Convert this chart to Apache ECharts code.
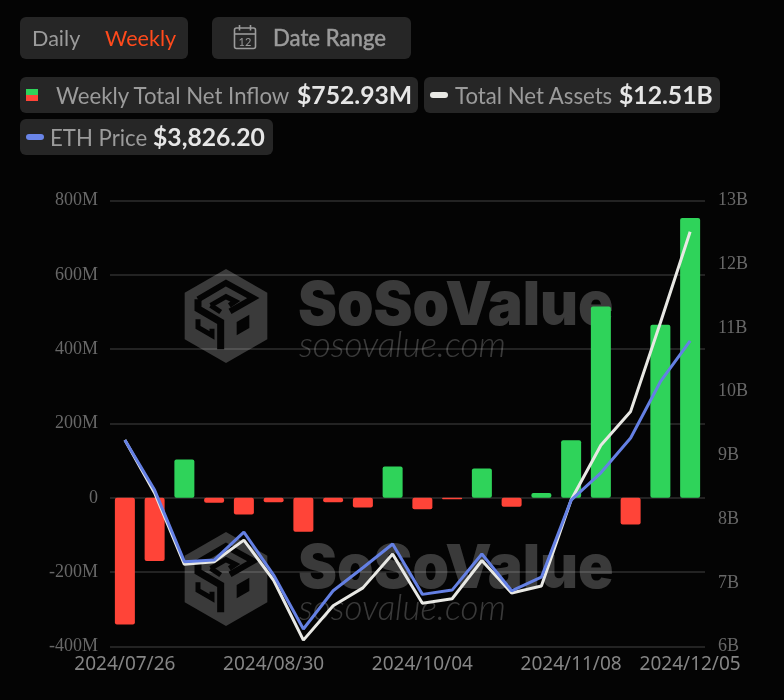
<!DOCTYPE html>
<html>
<head>
<meta charset="utf-8">
<script src="https://cdn.jsdelivr.net/npm/echarts@6/dist/echarts.min.js"></script>
<style>
html,body{margin:0;padding:0;background:#040404;width:784px;height:700px;overflow:hidden;font-family:Lato,sans-serif}
#chart{position:absolute;left:0;top:0;width:784px;height:700px}
.pill{position:absolute;background:#262626;border-radius:6px;z-index:2}
.t{position:absolute;white-space:nowrap;color:#9b9b9b;font-size:22.2px;line-height:26px;z-index:3}
.v{position:absolute;white-space:nowrap;color:#e6e6e6;font-size:24.7px;font-weight:700;line-height:28px;z-index:3}
.sw{position:absolute;z-index:3}
</style>
</head>
<body>
<div id="chart"></div>
<div class="pill" style="left:20px;top:17px;width:168px;height:42px"></div>
<div class="t" style="left:32px;top:25px;font-size:21.6px">Daily</div>
<div class="t" style="left:105px;top:25px;font-size:21.6px;color:#ff4a1c">Weekly</div>
<div class="pill" style="left:212px;top:17px;width:199px;height:42px"></div>
<svg class="sw" style="left:233px;top:24px" width="24" height="26" viewBox="0 0 24 26" fill="none" stroke="#9b9b9b" stroke-width="1.6">
  <rect x="1.5" y="4" width="21" height="20.5" rx="2"/><line x1="1.5" y1="10" x2="22.5" y2="10"/>
  <line x1="6.5" y1="1" x2="6.5" y2="6.5"/><line x1="17.5" y1="1" x2="17.5" y2="6.5"/>
  <text x="12" y="21.5" text-anchor="middle" fill="#9b9b9b" stroke="none" font-size="11" font-family="Lato">12</text>
</svg>
<div class="t" style="left:273px;top:25px;-webkit-text-stroke:0.5px #9b9b9b">Date Range</div>

<div class="pill" style="left:20px;top:77px;width:398px;height:36px"></div>
<div class="sw" style="left:26px;top:89px;width:12px;height:6px;background:#2fd35a"></div>
<div class="sw" style="left:26px;top:95px;width:12px;height:6px;background:#ff4438"></div>
<div class="t" style="left:56px;top:83px">Weekly Total Net Inflow</div>
<div class="v" style="left:297px;top:81px">$752.93M</div>

<div class="pill" style="left:424px;top:77px;width:296px;height:36px"></div>
<div class="sw" style="left:430px;top:92px;width:18px;height:6px;border-radius:3px;background:#e8e8e4"></div>
<div class="t" style="left:455px;top:83px">Total Net Assets</div>
<div class="v" style="left:619px;top:81px">$12.51B</div>

<div class="pill" style="left:20px;top:119px;width:253px;height:36px"></div>
<div class="sw" style="left:26px;top:134px;width:18px;height:6px;border-radius:3px;background:#6a85e8"></div>
<div class="t" style="left:50px;top:125px">ETH Price</div>
<div class="v" style="left:153px;top:123px">$3,826.20</div>

<script>
const categories = ["2024/07/26","2024/08/02","2024/08/09","2024/08/16","2024/08/23","2024/08/30","2024/09/06","2024/09/13","2024/09/20","2024/09/27","2024/10/04","2024/10/11","2024/10/18","2024/10/25","2024/11/01","2024/11/08","2024/11/15","2024/11/22","2024/11/29","2024/12/05"];
const netInflow = [-341,-170,103,-13,-45,-12,-91,-12,-26,84,-31,-4,79,-24,13,155,515,-72,466,752.93];
const netAssets = [9.24,8.41,7.29,7.33,7.67,7.04,6.10,6.64,6.92,7.45,6.68,6.75,7.35,6.84,6.95,8.30,9.16,9.69,11.08,12.51];
const ethPrice = [3271,2991,2590,2599,2756,2515,2213,2427,2556,2689,2407,2431,2633,2427,2503,2935,3088,3283,3598,3826.2];
const shownLabels = ["2024/07/26","2024/08/30","2024/10/04","2024/11/08","2024/12/05"];

const GREEN = '#2fd35a', RED = '#ff4438', WHITE = '#e8e8e4', BLUE = '#6480e4';
const WM = 'rgba(255,255,255,0.215)', BG = '#040404';

function watermark(dy) {
  const lp = pts => pts.map(p => [p[0]/3, p[1]/3]);
  const cut = w => ({ stroke: BG, fill: 'none', lineWidth: w, lineJoin: 'miter' });
  return [
    { type:'group', x:180, y:262+dy, z:1, silent:true, children:[
      { type:'polygon', z:1, shape:{points:lp([[138,21],[262,92],[262,232],[138,303],[14,232],[14,92]])}, style:{fill:WM} },
      { type:'polyline', z:1, shape:{points:lp([[54,112],[138,63],[220,108],[150,148]])}, style:cut(6) },
      { type:'polyline', z:1, shape:{points:lp([[92,130],[138,104],[166,118],[148,130]])}, style:cut(5) },
      { type:'polyline', z:1, shape:{points:lp([[92,130],[122,150]])}, style:cut(5) },
      { type:'polyline', z:1, shape:{points:lp([[54,112],[54,140],[122,180],[122,262]])}, style:cut(7) },
      { type:'polyline', z:1, shape:{points:lp([[54,172],[54,196],[96,220],[96,200]])}, style:cut(5) },
      { type:'polygon', z:1, shape:{points:lp([[170,180],[208,158],[208,198],[170,220]])}, style:{fill:BG} }
    ]},
    { type:'text', x:298, y:337+dy, z:1, silent:true, scaleX:0.96, style:{ text:'SoSoValue', fill:WM, font:'900 61px Inter', verticalAlign:'bottom' } },
    { type:'text', x:299, y:328+dy, z:1, silent:true, style:{ text:'sosovalue.com', fill:WM, font:'italic 300 35px Lato', verticalAlign:'top' } }
  ];
}

const chart = echarts.init(document.getElementById('chart'), null, {renderer:'canvas'});
chart.setOption({
  animation:false,
  backgroundColor:BG,
  grid:{left:110,right:79,top:200.5,bottom:53.5},
  xAxis:{type:'category',data:categories,
    axisLine:{show:false},axisTick:{show:false},
    axisLabel:{color:'#858585',fontSize:19,fontFamily:'"Noto Sans"',margin:9,hideOverlap:false,
      interval:(i,v)=>shownLabels.includes(v)}},
  yAxis:[
    {type:'value',min:-400,max:800,interval:200,
      axisLine:{show:false},axisTick:{show:false},
      splitLine:{lineStyle:{color:'#2e2e2e',width:1.5}},
      axisLabel:{color:'#686868',fontSize:18,fontFamily:'"Liberation Serif"',margin:12,formatter:v=>v===0?'0':v+'M'}},
    {type:'value',min:6,max:13,interval:1,position:'right',
      axisLine:{show:false},axisTick:{show:false},splitLine:{show:false},
      axisLabel:{color:'#686868',fontSize:18,fontFamily:'"Liberation Serif"',margin:13,formatter:v=>v+'B'}},
    {type:'value',min:2115,max:4613,show:false,splitLine:{show:false}}
  ],
  series:[
    {name:'Weekly Total Net Inflow',type:'bar',data:netInflow,barWidth:20,z:2,
      itemStyle:{borderRadius:2,color:p=>p.value>=0?GREEN:RED}},
    {name:'Total Net Assets',type:'line',yAxisIndex:1,data:netAssets,showSymbol:false,symbol:'none',z:3,
      lineStyle:{color:WHITE,width:3}},
    {name:'ETH Price',type:'line',yAxisIndex:2,data:ethPrice,showSymbol:false,symbol:'none',z:4,
      lineStyle:{color:BLUE,width:3}}
  ],
  graphic:{elements:[...watermark(0),...watermark(263)]}
});
</script>
</body>
</html>
